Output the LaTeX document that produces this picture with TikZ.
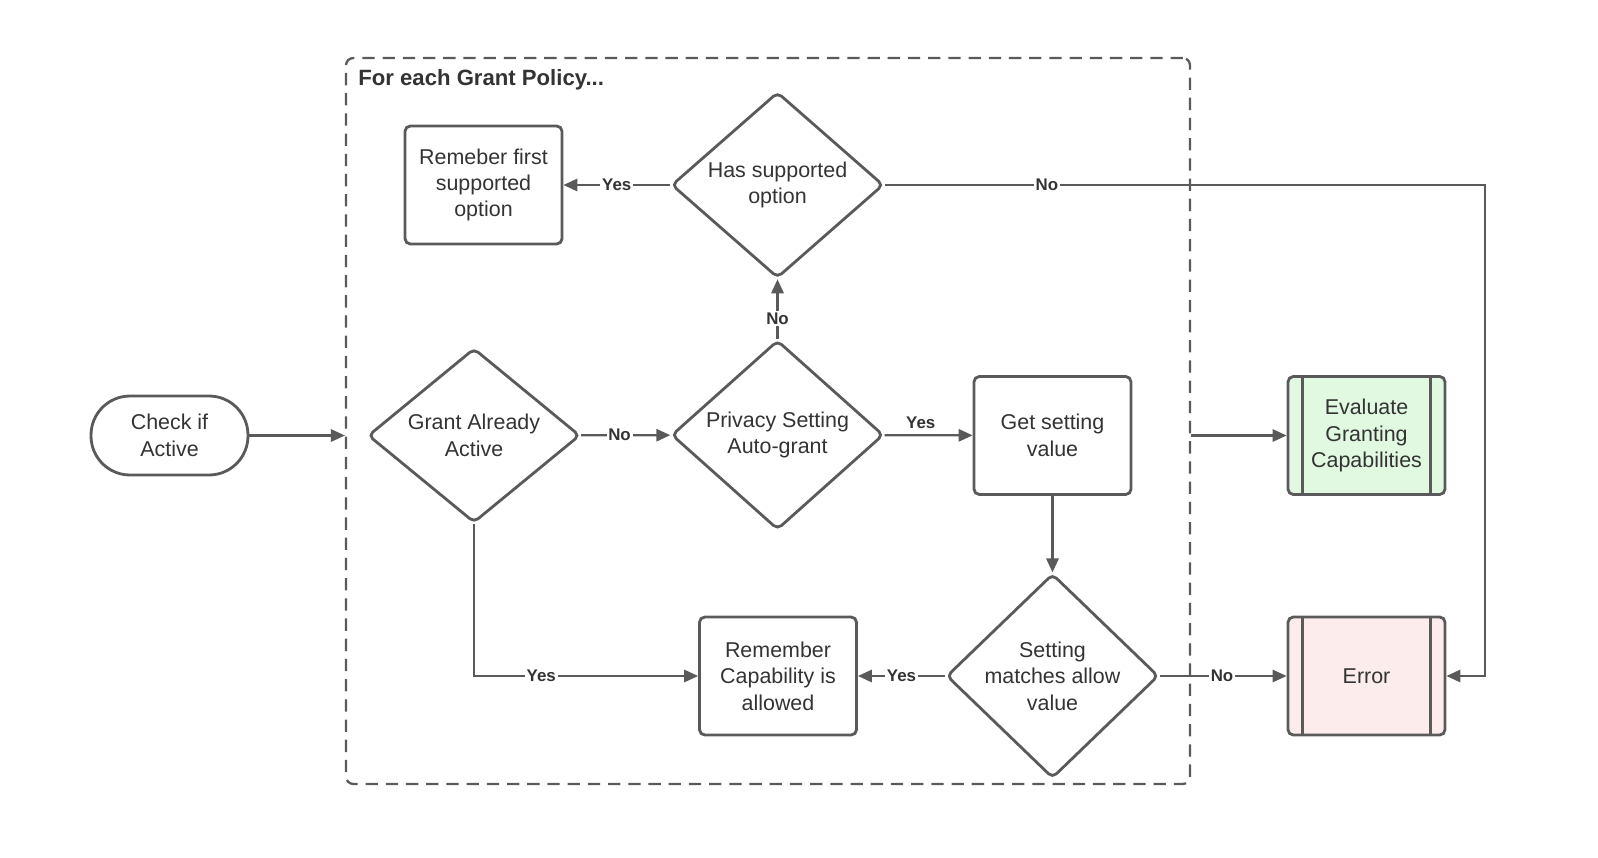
\documentclass[tikz,border=0pt]{standalone}
\usepackage{fontspec}
\setmainfont{Liberation Sans}
\usetikzlibrary{shapes.geometric,arrows.meta,calc}
\definecolor{ln}{HTML}{5A5A5A}
\definecolor{tx}{HTML}{333333}
\definecolor{gfill}{HTML}{E1F8E1}
\definecolor{rfill}{HTML}{FCEDEC}
\begin{document}
\begin{tikzpicture}[x=0.02cm,y=-0.02cm,
 every node/.style={text=tx, font=\fontsize{12.2}{15}\selectfont},
 proc/.style={draw=ln, line width=1.6pt, rounded corners=3pt, minimum width=3.14cm, minimum height=2.36cm, align=center, inner sep=2pt},
 dec/.style={diamond, draw=ln, line width=1.6pt, rounded corners=3pt, minimum width=4.24cm, minimum height=3.46cm, align=center, inner sep=0pt},
 term/.style={draw=ln, line width=1.6pt, rounded corners=0.78cm, minimum width=3.14cm, minimum height=1.58cm, align=center},
 arr/.style={draw=ln, line width=1.3pt, -{Triangle[length=8pt,width=7pt]}},
 lbl/.style={font=\fontsize{9.6}{10}\selectfont\bfseries, fill=white, inner sep=1pt, text=tx},
 inl/.style={draw=ln, line width=1.6pt},
]
\useasboundingbox (0,0) rectangle (1598,858);

% container
\node (box) [draw=ln, dash pattern=on 7pt off 4.5pt, line width=1.3pt, rounded corners=4pt,
  minimum width=16.88cm, minimum height=14.52cm] at (768,421) {};
\node (title) [anchor=west, font=\fontsize{12.6}{15}\selectfont\bfseries, inner sep=0pt] at (358,80) {For each Grant Policy...};

% nodes
\node (check) [term] at (169.5,435.5) {Check if\\Active};
\node (grant) [dec] at (474,435.5) {Grant Already\\Active};
\node (priv) [dec] at (777.5,435) {Privacy Setting\\Auto-grant};
\node (has) [dec] at (777.5,185) {Has supported\\option};
\node (first) [proc] at (483.5,185) {Remeber first\\supported\\option};
\node (get) [proc] at (1052.5,435.5) {Get setting\\value};
\node (match) [dec] at (1052.5,676) {Setting\\matches allow\\value};
\node (remcap) [proc] at (778,676) {Remember\\Capability is\\allowed};
\node (ev) [proc, fill=gfill] at (1366.5,435.5) {Evaluate\\Granting\\Capabilities};
\node (err) [proc, fill=rfill] at (1366.5,676) {Error};
\draw[inl] ($(ev.north west)+(16,0)$) -- ($(ev.south west)+(16,0)$);
\draw[inl] ($(ev.north east)+(-16,0)$) -- ($(ev.south east)+(-16,0)$);
\draw[inl] ($(err.north west)+(16,0)$) -- ($(err.south west)+(16,0)$);
\draw[inl] ($(err.north east)+(-16,0)$) -- ($(err.south east)+(-16,0)$);

\coordinate (rt) at (1485,185);

% connectors
\draw[arr] (check) -- (check -| box.west);
\draw[arr] (grant) -- node[lbl, pos=0.43] {No} (priv);
\draw[arr] (priv) -- node[lbl, pos=0.41, above=2pt, fill=none] {Yes} (get);
\draw[arr] (priv) -- node[lbl, pos=0.34] {No} (has);
\draw[arr] (has) -- node[lbl, pos=0.5] {Yes} (first);
\draw[arr] (has.east) -- node[lbl, pos=0.27] {No} (rt) |- (err.east);
\draw[arr] (get) -- (match);
\draw[arr] (match) -- node[lbl, pos=0.5] {Yes} (remcap);
\draw[arr] (match) -- node[lbl, pos=0.49] {No} (err);
\draw[arr] (grant.south) |- node[lbl, pos=0.65] {Yes} (remcap.west);
\draw[arr] (box.east |- ev) -- (ev);
\end{tikzpicture}
\end{document}
